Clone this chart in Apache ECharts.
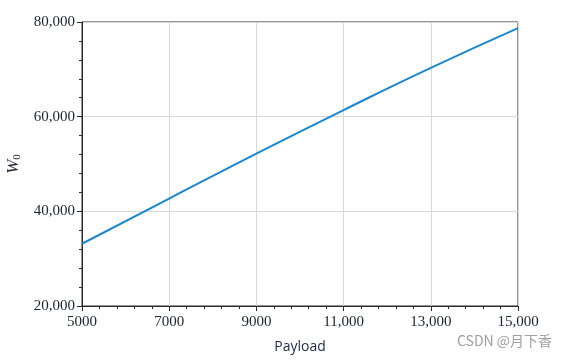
<!DOCTYPE html>
<html><head><meta charset="utf-8">
<script src="https://cdn.jsdelivr.net/npm/echarts@6/dist/echarts.min.js"></script>
<style>html,body{margin:0;padding:0;background:#fff}#c{width:572px;height:360px}</style>
</head><body><div id="c"></div>
<script>
var payload = [5000, 7000, 9000, 11000, 13000, 15000];
var w0 = [33150, 42700, 52200, 61400, 70300, 78700];
var xTicks = [5000, 7000, 9000, 11000, 13000, 15000];
var yTicks = [20000, 40000, 60000, 80000];

var chart = echarts.init(document.getElementById('c'));
function fmt(v){ return v >= 10000 ? v.toLocaleString('en-US') : String(v); }
chart.setOption({
  animation: false,
  grid: {left: 82, right: 54, top: 22, bottom: 54, show: true, borderColor: '#2a2a2a', borderWidth: 1,
    containLabel: false, outerBoundsMode: 'none'},
  xAxis: {
    type: 'value', min: xTicks[0], max: xTicks[xTicks.length-1], interval: 2000,
    name: 'Payload', nameLocation: 'middle', nameGap: 34,
    nameTextStyle: {fontFamily: 'Open Sans', fontSize: 14, color: '#1c2a44'},
    axisLine: {lineStyle: {color: '#2a2a2a'}},
    axisTick: {length: 5, lineStyle: {color: '#2a2a2a'}},
    minorTick: {show: true, splitNumber: 5, length: 3, lineStyle: {color: '#2a2a2a'}},
    axisLabel: {fontFamily: 'Liberation Serif', fontSize: 15, color: '#1c2430', margin: 9, formatter: fmt},
    splitLine: {show: true, lineStyle: {color: '#d8d8d8', width: 1}}
  },
  yAxis: {
    type: 'value', min: yTicks[0], max: yTicks[yTicks.length-1], interval: 20000,
    name: '{w|W}{s|0}', nameLocation: 'middle', nameGap: 55, nameRotate: 90,
    nameTextStyle: {rich: {
      w: {fontFamily: 'Liberation Serif', fontStyle: 'italic', fontSize: 17, color: '#1c2430'},
      s: {fontFamily: 'Liberation Serif', fontSize: 11, color: '#1c2430', padding: [8,0,0,0]}
    }},
    axisLine: {show: true, lineStyle: {color: '#2a2a2a'}},
    axisTick: {show: true, length: 5, lineStyle: {color: '#2a2a2a'}},
    minorTick: {show: true, splitNumber: 5, length: 3, lineStyle: {color: '#2a2a2a'}},
    axisLabel: {fontFamily: 'Liberation Serif', fontSize: 15, color: '#1c2430', margin: 7,
      formatter: function(v){ return v.toLocaleString('en-US'); }},
    splitLine: {show: true, lineStyle: {color: '#d8d8d8', width: 1}}
  },
  graphic: [{type: 'text', left: 457, top: 334,
    style: {text: 'CSDN @月下香', fill: '#a0a0a0', fontSize: 14, fontFamily: 'Noto Sans CJK SC'}}],
  series: [{
    type: 'line', showSymbol: false, smooth: true,
    data: payload.map(function(x,i){ return [x, w0[i]]; }),
    lineStyle: {color: '#1f86c8', width: 2}
  }]
});
</script></body></html>
